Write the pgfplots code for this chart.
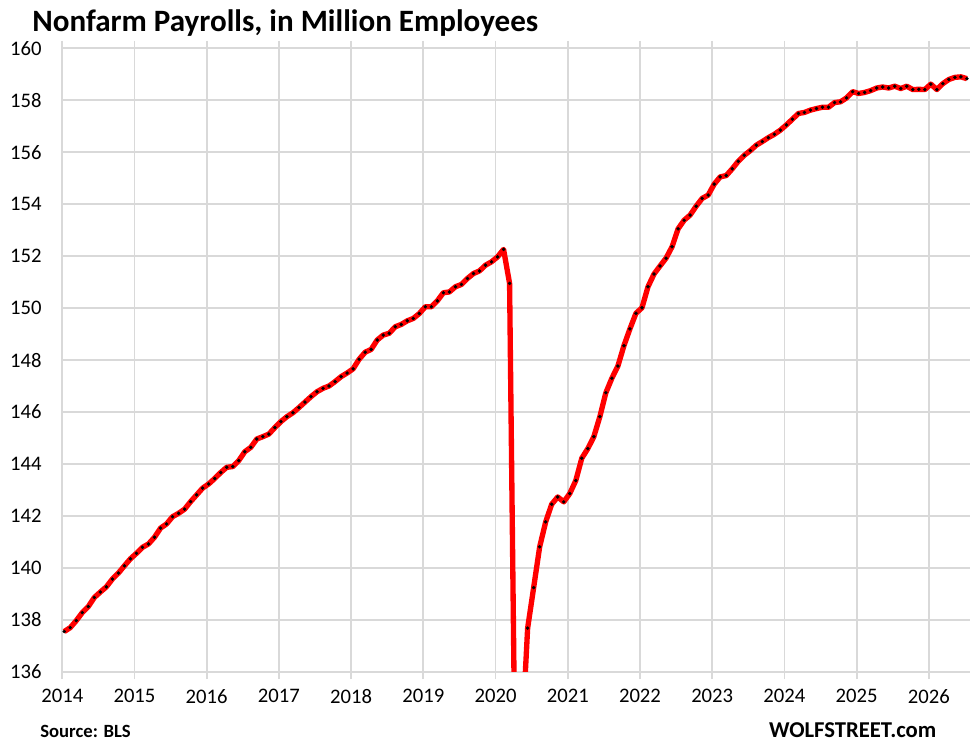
\documentclass[border=0pt]{standalone}
\usepackage{fontspec}
\setmainfont{Carlito}
\usepackage{pgfplots}
\usepackage{pgfplotstable}
\pgfplotsset{compat=1.18}
\definecolor{gridgrey}{HTML}{D9D9D9}
\definecolor{linered}{HTML}{FF0000}

% monthly payrolls, m = months since Jan 2014
\pgfplotstableread{
m v
0 137.55
1 137.70
2 137.97
3 138.28
4 138.51
5 138.86
6 139.07
7 139.27
8 139.57
9 139.80
10 140.08
11 140.35
12 140.56
13 140.79
14 140.92
15 141.18
16 141.53
17 141.69
18 141.97
19 142.10
20 142.26
21 142.55
22 142.81
23 143.07
24 143.23
25 143.44
26 143.67
27 143.87
28 143.90
29 144.13
30 144.47
31 144.64
32 144.96
33 145.05
34 145.15
35 145.40
36 145.63
37 145.82
38 145.97
39 146.17
40 146.38
41 146.59
42 146.78
43 146.91
44 147.00
45 147.17
46 147.36
47 147.50
48 147.66
49 148.03
50 148.30
51 148.41
52 148.77
53 148.96
54 149.03
55 149.28
56 149.37
57 149.51
58 149.60
59 149.79
60 150.05
61 150.05
62 150.28
63 150.59
64 150.62
65 150.82
66 150.91
67 151.14
68 151.33
69 151.43
70 151.65
71 151.78
72 151.97
73 152.26
74 150.95
75 130.4
76 133.2
77 137.68
78 139.24
79 140.81
80 141.77
81 142.45
82 142.73
83 142.54
84 142.86
85 143.36
86 144.22
87 144.59
88 145.05
89 145.82
90 146.74
91 147.30
92 147.77
93 148.55
94 149.20
95 149.80
96 150.01
97 150.82
98 151.31
99 151.62
100 151.92
101 152.36
102 153.05
103 153.38
104 153.58
105 153.92
106 154.22
107 154.35
108 154.77
109 155.05
110 155.10
111 155.36
112 155.65
113 155.88
114 156.06
115 156.27
116 156.41
117 156.56
118 156.69
119 156.85
120 157.05
121 157.27
122 157.49
123 157.53
124 157.62
125 157.68
126 157.73
127 157.73
128 157.91
129 157.94
130 158.09
131 158.33
132 158.26
133 158.30
134 158.37
135 158.47
136 158.51
137 158.47
138 158.54
139 158.45
140 158.54
141 158.41
142 158.42
143 158.41
144 158.62
145 158.41
146 158.64
147 158.80
148 158.88
149 158.90
150 158.83
}\payrolls

\begin{document}
\begin{tikzpicture}
\path[use as bounding box] (-46.7pt,-54.2pt) rectangle (686pt,503.8pt);
\begin{axis}[
    scale only axis,
    width=680.8pt, height=467.6pt,
    xmin=0, xmax=150.85, ymin=136, ymax=160,
    xtick={0,12,...,144},
    xticklabels={2014,2015,2016,2017,2018,2019,2020,2021,2022,2023,2024,2025,2026},
    ytick={136,138,...,160},
    grid=major,
    grid style={draw=gridgrey, line width=1.3pt},
    axis line style={draw=none},
    xtick align=outside,
    major tick length=5.5pt,
    xtick style={draw=gridgrey, line width=1.3pt},
    ytick style={draw=none},
    /pgf/number format/assume math mode=true,
    /pgf/number format/1000 sep={},
    ticklabel style={font=\fontsize{15.5}{18}\selectfont, text=black},
    xticklabel style={yshift=-4pt},
    yticklabel style={xshift=-12pt},
]
% red line
\addplot[color=linered, line width=4pt, line join=round, no markers]
    table[x expr=\thisrow{m}+0.33, y=v] {\payrolls};
% black dots on each month
\addplot[only marks, mark=*, mark size=1.1pt, color=black]
    table[x expr=\thisrow{m}+0.33, y=v] {\payrolls};
\end{axis}
\node[anchor=base west, font=\fontsize{23.3}{27}\selectfont\bfseries] at (-26pt,480.5pt)
    {Nonfarm Payrolls, in Million Employees};
\node[anchor=base west, font=\fontsize{14}{16}\selectfont\bfseries] at (-20pt,-49pt)
    {Source: BLS};
\node[anchor=base east, font=\fontsize{17}{19}\selectfont\bfseries] at (659pt,-49.5pt)
    {WOLFSTREET.com};
\end{tikzpicture}
\end{document}
